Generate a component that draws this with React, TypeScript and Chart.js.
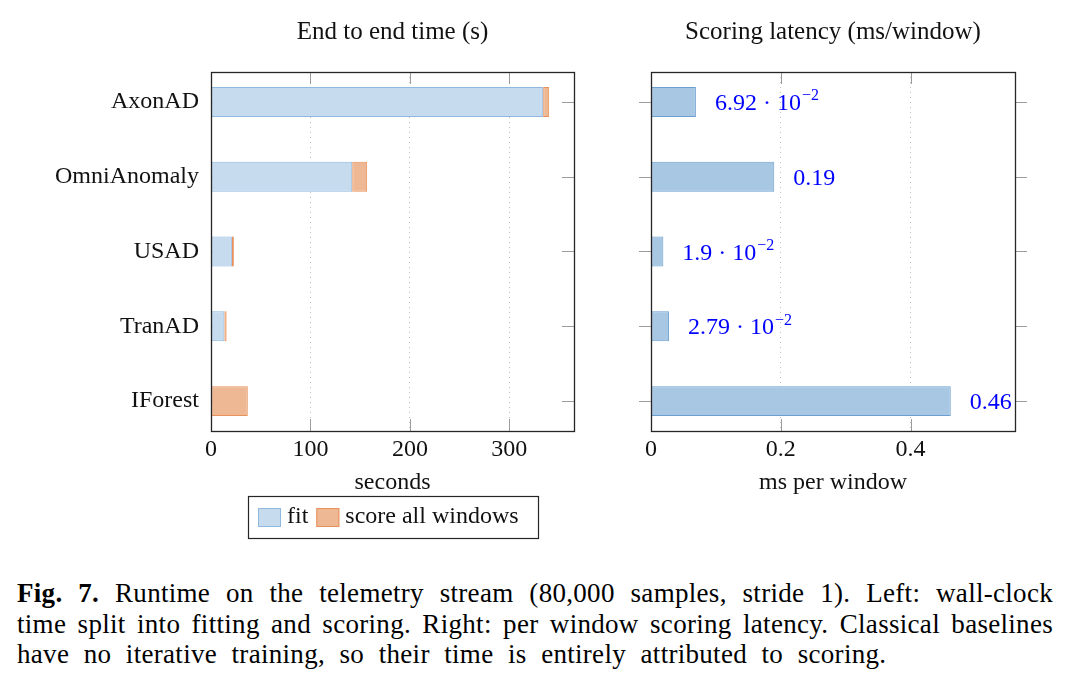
import React, { useEffect, useRef } from 'react';
import { Chart, registerables } from 'chart.js';

Chart.register(...registerables);

// ---- data ----
const methods = ['AxonAD', 'OmniAnomaly', 'USAD', 'TranAD', 'IForest'];
const fitSeconds = [334, 142, 21, 13.4, 0];
const scoreSeconds = [6, 15, 2, 2.3, 37];
const latencyMs = [0.0692, 0.19, 0.019, 0.0279, 0.462];
const latencyLabels = ['6.92 · 10^−2', '0.19', '1.9 · 10^−2', '2.79 · 10^−2', '0.46'];
const secondsTicks = [0, 100, 200, 300];
const latencyTicks = [0, 0.2, 0.4];
const secondsMax = 365;
const latencyMax = 0.561;

const serif = "'Liberation Serif', 'Times New Roman', serif";
const ink = '#111111';
const FS = 24;

const fitFill = '#c6dbee';
const fitLine = '#8fb9df';
const scoreFill = '#efb894';
const scoreLine = '#e8915a';
const latFill = '#a7c7e3';
const latLine = '#6a9fd0';

function decorPlugin(yOutside: boolean) {
  const TL = 12;
  return {
    id: 'decor',
    beforeDatasetsDraw(chart: any) {
      const { ctx, chartArea: a, scales } = chart;
      const x = scales.x;
      const y = scales.y;
      ctx.save();
      ctx.strokeStyle = '#9c9c9c';
      ctx.lineWidth = 1;
      ctx.beginPath();
      x.ticks.forEach((t: any) => {
        const px = Math.round(x.getPixelForValue(t.value)) + 0.5;
        ctx.moveTo(px, a.top);
        ctx.lineTo(px, a.top + TL);
        ctx.moveTo(px, a.bottom);
        ctx.lineTo(px, a.bottom - TL);
      });
      y.ticks.forEach((t: any) => {
        const py = Math.round(y.getPixelForValue(t.value)) + 0.5;
        if (yOutside) {
          ctx.moveTo(a.left - TL, py);
          ctx.lineTo(a.left, py);
          ctx.moveTo(a.right, py);
          ctx.lineTo(a.right + TL, py);
        } else {
          ctx.moveTo(a.left, py);
          ctx.lineTo(a.left + TL, py);
          ctx.moveTo(a.right, py);
          ctx.lineTo(a.right - TL, py);
        }
      });
      ctx.stroke();
      ctx.restore();
    },
    afterDatasetsDraw(chart: any) {
      const { ctx, chartArea: a } = chart;
      ctx.save();
      ctx.strokeStyle = '#262626';
      ctx.lineWidth = 1.3;
      ctx.strokeRect(Math.round(a.left) + 0.5, Math.round(a.top) + 0.5, Math.round(a.right - a.left), Math.round(a.bottom - a.top));
      ctx.restore();
    },
  };
}

const legendBoxPlugin = {
  id: 'legendBox',
  afterDraw(chart: any) {
    const { ctx, chartArea: a } = chart;
    const ds = chart.data.datasets;
    ctx.save();
    ctx.font = `${FS}px ${serif}`;
    const sw = 23, sh = 19, padL = 10, padR = 19, gapT = 6, gapI = 8;
    const widths = ds.map((d: any) => ctx.measureText(d.label).width);
    let total = padL + padR + gapI * (ds.length - 1);
    ds.forEach((d: any, i: number) => { total += sw + gapT + widths[i]; });
    const cx = (a.left + a.right) / 2;
    const top = Math.round(a.bottom) + 65;
    const h = 42;
    const left = Math.round(cx - total / 2);
    ctx.strokeStyle = '#262626';
    ctx.lineWidth = 1.2;
    ctx.strokeRect(left + 0.5, top + 0.5, Math.round(total), h);
    let px = left + padL;
    const cy = top + h / 2;
    ds.forEach((d: any, i: number) => {
      ctx.fillStyle = d.backgroundColor;
      ctx.fillRect(px, Math.round(cy - sh / 2), sw, sh);
      ctx.strokeStyle = d.borderColor;
      ctx.lineWidth = 1;
      ctx.strokeRect(px + 0.5, Math.round(cy - sh / 2) + 0.5, sw - 1, sh - 1);
      px += sw + gapT;
      ctx.fillStyle = ink;
      ctx.textBaseline = 'middle';
      ctx.textAlign = 'left';
      ctx.fillText(d.label, px, cy);
      px += widths[i] + gapI;
    });
    ctx.restore();
  },
};

const valueLabelPlugin = {
  id: 'valueLabels',
  afterDatasetsDraw(chart: any) {
    const meta = chart.getDatasetMeta(0);
    const ctx = chart.ctx;
    ctx.save();
    ctx.fillStyle = '#0000ff';
    ctx.textBaseline = 'alphabetic';
    ctx.textAlign = 'left';
    meta.data.forEach((el: any, i: number) => {
      const parts = latencyLabels[i].split('^');
      const { x, y } = el.getProps(['x', 'y'], true);
      let px = x + 19;
      const baseline = y + 8;
      ctx.font = `${FS}px ${serif}`;
      ctx.fillText(parts[0], px, baseline);
      if (parts[1]) {
        px += ctx.measureText(parts[0]).width + 1;
        ctx.font = `16px ${serif}`;
        ctx.fillText(parts[1], px, baseline - 9.5);
      }
    });
    ctx.restore();
  },
};

const font = { family: serif, size: FS, weight: 'normal' as const };

function yIndexScale(withLabels: boolean, width: number) {
  return {
    type: 'linear' as const,
    stacked: true,
    reverse: true,
    offset: false,
    bounds: 'data' as const,
    min: -0.4,
    max: methods.length - 0.6,
    afterBuildTicks: (s: any) => { s.ticks = methods.map((_, i) => ({ value: i })); },
    afterFit: (s: any) => { s.width = width; },
    grid: { display: false, drawTicks: false, offset: false },
    border: { display: false },
    ticks: {
      display: withLabels,
      padding: 12,
      color: ink,
      font,
      callback: (v: any) => methods[v],
    },
  };
}

function xValueScale(max: number, tickVals: number[], title: string, height: number, titleBottom: number, stacked: boolean) {
  return {
    type: 'linear' as const,
    stacked,
    min: 0,
    max,
    afterBuildTicks: (s: any) => { s.ticks = tickVals.map((v) => ({ value: v })); },
    afterFit: (s: any) => { s.height = height; },
    grid: { color: '#bdbdbd', lineWidth: 1, drawTicks: false },
    border: { display: false, dash: [1, 4] },
    ticks: { padding: 4.5, color: ink, font, callback: (v: any) => String(v) },
    title: { display: true, text: title, color: ink, font, padding: { top: 0, bottom: titleBottom } },
  };
}

function titleOpts(text: string) {
  return {
    display: true,
    text,
    fullSize: false,
    color: ink,
    font: { family: serif, size: 25, weight: 'normal' as const },
    padding: { top: 17, bottom: 25 },
  };
}

function LeftChart() {
  const ref = useRef<HTMLCanvasElement>(null);
  useEffect(() => {
    const chart = new Chart(ref.current as HTMLCanvasElement, {
      type: 'bar',
      data: {
        datasets: [
          {
            label: 'fit',
            data: methods.map((_, i) => ({ x: fitSeconds[i], y: i })),
            backgroundColor: fitFill,
            borderColor: fitLine,
            borderWidth: 1,
            borderSkipped: false,
            barPercentage: 0.4,
            categoryPercentage: 1,
          },
          {
            label: 'score all windows',
            data: methods.map((_, i) => ({ x: scoreSeconds[i], y: i })),
            backgroundColor: scoreFill,
            borderColor: scoreLine,
            borderWidth: 1,
            borderSkipped: false,
            barPercentage: 0.4,
            categoryPercentage: 1,
          },
        ],
      } as any,
      options: {
        indexAxis: 'y',
        animation: false,
        responsive: false,
        maintainAspectRatio: false,
        layout: { padding: { left: 0, right: 26, top: 0, bottom: 0 } },
        scales: {
          x: xValueScale(secondsMax, secondsTicks, 'seconds', 114, 48, true),
          y: yIndexScale(true, 211),
        } as any,
        plugins: {
          legend: { display: false },
          tooltip: { enabled: false },
          title: titleOpts('End to end time (s)') as any,
        },
      },
      plugins: [decorPlugin(false), legendBoxPlugin],
    });
    return () => chart.destroy();
  }, []);
  return <canvas ref={ref} width={600} height={545} style={{ position: 'absolute', left: 0, top: 0 }} />;
}

function RightChart() {
  const ref = useRef<HTMLCanvasElement>(null);
  useEffect(() => {
    const chart = new Chart(ref.current as HTMLCanvasElement, {
      type: 'bar',
      data: {
        datasets: [
          {
            label: 'latency',
            data: methods.map((_, i) => ({ x: latencyMs[i], y: i })),
            backgroundColor: latFill,
            borderColor: latLine,
            borderWidth: 1,
            borderSkipped: false,
            barPercentage: 0.4,
            categoryPercentage: 1,
          },
        ],
      } as any,
      options: {
        indexAxis: 'y',
        animation: false,
        responsive: false,
        maintainAspectRatio: false,
        layout: { padding: { left: 0, right: 54, top: 0, bottom: 0 } },
        scales: {
          x: xValueScale(latencyMax, latencyTicks, 'ms per window', 69, 3, false),
          y: yIndexScale(false, 51),
        } as any,
        plugins: {
          legend: { display: false },
          tooltip: { enabled: false },
          title: titleOpts('Scoring latency (ms/window)') as any,
        },
      },
      plugins: [decorPlugin(true), valueLabelPlugin],
    });
    return () => chart.destroy();
  }, []);
  return <canvas ref={ref} width={469} height={500} style={{ position: 'absolute', left: 600, top: 0 }} />;
}

export default function App() {
  const lineStyle: React.CSSProperties = { textAlign: 'justify', textAlignLast: 'justify', whiteSpace: 'nowrap' };
  return (
    <div style={{ position: 'fixed', left: 0, top: 0, width: 1069, height: 689, background: '#ffffff', overflow: 'hidden' }}>
      <LeftChart />
      <RightChart />
      <div
        style={{
          position: 'absolute',
          left: 17,
          top: 578,
          width: 1036,
          fontFamily: serif,
          fontSize: 27,
          letterSpacing: 0.3,
          lineHeight: '30.5px',
          color: '#000000',
        }}
      >
        <div style={lineStyle}><b>Fig. 7.</b> Runtime on the telemetry stream (80,000 samples, stride 1). Left: wall-clock</div>
        <div style={lineStyle}>time split into fitting and scoring. Right: per window scoring latency. Classical baselines</div>
        <div style={{ whiteSpace: 'nowrap', wordSpacing: 7.5 }}>have no iterative training, so their time is entirely attributed to scoring.</div>
      </div>
    </div>
  );
}
